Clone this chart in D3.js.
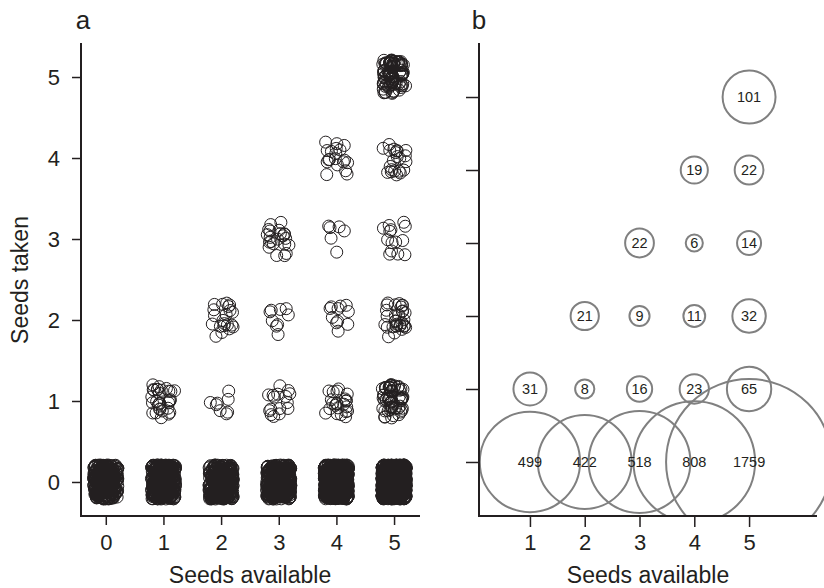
<!DOCTYPE html>
<html>
<head>
<meta charset="utf-8">
<script src="https://cdn.jsdelivr.net/npm/d3@7"></script>
<style>
  body { margin: 0; background: #fff; }
  svg { display: block; }
  text { font-family: "Liberation Sans", Arial, sans-serif; fill: #231f20; }
</style>
</head>
<body>
<svg id="chart" width="824" height="588"></svg>
<script>
// seeds available (x) and seeds taken (y)
var availableA = [0, 1, 2, 3, 4, 5];
var availableB = [1, 2, 3, 4, 5];
var takenLevels = [0, 1, 2, 3, 4, 5];

// number of observations per cell, one row per "seeds available", index = seeds taken
var countsAvail1 = [499, 31];
var countsAvail2 = [422, 8, 21];
var countsAvail3 = [518, 16, 9, 22];
var countsAvail4 = [808, 23, 11, 6, 19];
var countsAvail5 = [1759, 65, 32, 14, 22, 101];
// nothing available -> nothing taken; not labelled in panel b, estimated
var countsAvail0 = [450];

var countRows = [countsAvail0, countsAvail1, countsAvail2, countsAvail3, countsAvail4, countsAvail5];

var cells = [];
countRows.forEach(function (row, a) {
  row.forEach(function (n, t) {
    cells.push({ available: a, taken: t, n: n });
  });
});

var svg = d3.select("#chart");
var ink = "#231f20";
var fontTick = 22, fontTitle = 23;

// ---------- panel a : jittered points ----------
var xa = d3.scaleLinear().domain([-0.43, 5.45]).range([81, 420]);
var ya = d3.scaleLinear().domain([-0.42, 5.42]).range([516, 43]);
var jit = 0.21;

// integer hash for the jitter offsets (layout only, same on every render)
var hash = function (n) {
  n = (n ^ 61) ^ (n >>> 16);
  n = n + (n << 3);
  n = n ^ (n >>> 4);
  n = Math.imul(n, 0x27d4eb2d);
  n = n ^ (n >>> 15);
  return (n >>> 0) / 4294967296;
};

var pts = [];
cells.forEach(function (c, k) {
  for (var i = 0; i < c.n; i++) {
    var s = (k * 4096 + i) * 2;
    pts.push({
      x: c.available + (hash(s) * 2 - 1) * jit,
      y: c.taken + (hash(s + 1) * 2 - 1) * jit
    });
  }
});

var ga = svg.append("g");
ga.selectAll("circle.pt")
  .data(pts)
  .enter().append("circle")
  .attr("class", "pt")
  .attr("cx", function (d) { return xa(d.x); })
  .attr("cy", function (d) { return ya(d.y); })
  .attr("r", 6)
  .attr("fill", "none")
  .attr("stroke", ink)
  .attr("stroke-width", 1);

var axA = ga.append("g").attr("transform", "translate(0,516)")
  .call(d3.axisBottom(xa).tickValues(availableA).tickFormat(d3.format("d"))
    .tickSize(9).tickSizeOuter(0).tickPadding(9));
var ayA = ga.append("g").attr("transform", "translate(81,0)")
  .call(d3.axisLeft(ya).tickValues(takenLevels).tickFormat(d3.format("d"))
    .tickSize(9).tickSizeOuter(0).tickPadding(12));

[axA, ayA].forEach(function (g) {
  g.select(".domain").remove();
  g.selectAll(".tick line").attr("stroke", ink).attr("stroke-width", 1.5);
  g.selectAll(".tick text").attr("font-size", fontTick).attr("fill", ink)
    .style("font-family", "'Liberation Sans', Arial, sans-serif");
});

ga.append("path")
  .attr("d", "M81,43V516H420")
  .attr("fill", "none").attr("stroke", ink).attr("stroke-width", 2);

ga.append("text").attr("x", 250).attr("y", 583).attr("text-anchor", "middle")
  .attr("font-size", fontTitle).text("Seeds available");
ga.append("text").attr("transform", "translate(28,280) rotate(-90)").attr("text-anchor", "middle")
  .attr("font-size", fontTitle).text("Seeds taken");
ga.append("text").attr("x", 83).attr("y", 29).attr("text-anchor", "middle")
  .attr("font-size", 26).text("a");

// ---------- panel b : bubble counts ----------
var xb = d3.scaleLinear().domain([0.07, 6.24]).range([479, 817]);
var yb = d3.scaleLinear().domain([-0.74, 5.74]).range([516, 43]);
var rb = d3.scalePow().exponent(0.4).domain([0, 1759]).range([0, 83]);

var cellsB = cells.filter(function (c) { return c.available > 0; });

svg.append("clipPath").attr("id", "clipb")
  .append("rect").attr("x", 479).attr("y", 0).attr("width", 360).attr("height", 516);

var gb = svg.append("g");
var bub = gb.append("g").attr("clip-path", "url(#clipb)");

bub.selectAll("circle")
  .data(cellsB)
  .enter().append("circle")
  .attr("cx", function (d) { return xb(d.available); })
  .attr("cy", function (d) { return yb(d.taken); })
  .attr("r", function (d) { return rb(d.n); })
  .attr("fill", "none")
  .attr("stroke", "#808080")
  .attr("stroke-width", 2);

gb.selectAll("text.lab")
  .data(cellsB)
  .enter().append("text")
  .attr("class", "lab")
  .attr("x", function (d) { return xb(d.available); })
  .attr("y", function (d) { return yb(d.taken); })
  .attr("dy", "0.36em")
  .attr("text-anchor", "middle")
  .attr("font-size", 14.5)
  .text(function (d) { return d.n; });

var axB = gb.append("g").attr("transform", "translate(0,516)")
  .call(d3.axisBottom(xb).tickValues(availableB).tickFormat(d3.format("d"))
    .tickSize(11).tickSizeOuter(0).tickPadding(7));
var ayB = gb.append("g").attr("transform", "translate(479,0)")
  .call(d3.axisLeft(yb).tickValues(takenLevels).tickSize(13).tickSizeOuter(0).tickFormat(""));

[axB, ayB].forEach(function (g) {
  g.select(".domain").remove();
  g.selectAll(".tick line").attr("stroke", ink).attr("stroke-width", 1.5);
  g.selectAll(".tick text").attr("font-size", fontTick).attr("fill", ink)
    .style("font-family", "'Liberation Sans', Arial, sans-serif");
});

gb.append("path")
  .attr("d", "M479,43V516H817")
  .attr("fill", "none").attr("stroke", ink).attr("stroke-width", 2);

gb.append("text").attr("x", 648).attr("y", 583).attr("text-anchor", "middle")
  .attr("font-size", fontTitle).text("Seeds available");
gb.append("text").attr("x", 479).attr("y", 29).attr("text-anchor", "middle")
  .attr("font-size", 26).text("b");
</script>
</body>
</html>
